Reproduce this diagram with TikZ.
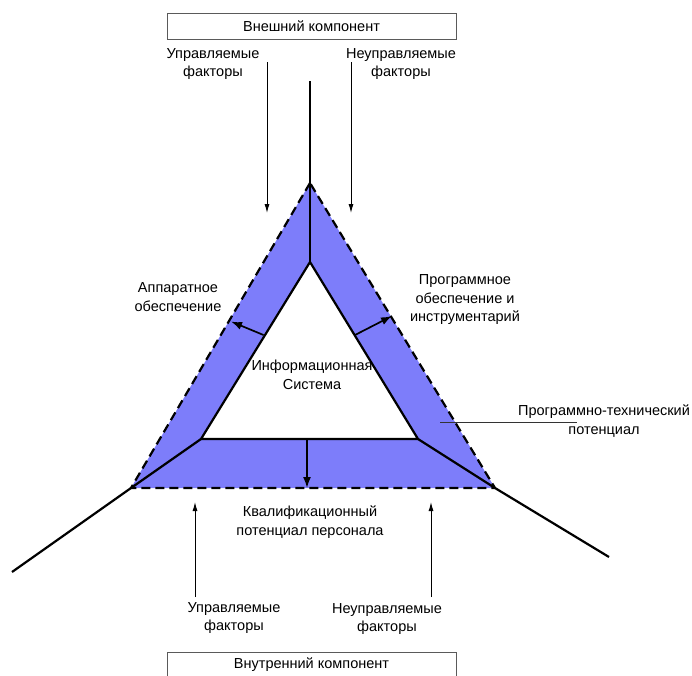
\documentclass[tikz,border=0pt]{standalone}
\usepackage{fontspec}
\setmainfont{Liberation Sans}
\usetikzlibrary{arrows.meta}
\definecolor{band}{RGB}{125,125,250}
\definecolor{boxline}{RGB}{90,90,90}
\begin{document}
\begin{tikzpicture}[x=1pt,y=-1pt,
  lbl/.style={align=center,font=\fontsize{14.5}{18.5}\selectfont,inner sep=0pt},
  compbox/.style={draw=boxline,line width=1pt,minimum width=289pt,minimum height=26pt,inner sep=0pt,font=\fontsize{14.5}{18.5}\selectfont},
  mainline/.style={line width=2.2pt,line join=miter},
  outeredge/.style={line width=2.2pt,dash pattern=on 9pt off 5pt},
  bandarrow/.style={line width=1.7pt,-{Latex[length=11pt,width=8pt]}},
  factorarrow/.style={line width=1pt,-{Latex[length=9pt,width=5pt]}},
  leader/.style={line width=0.9pt,draw=black!80}]
\useasboundingbox (0,0) rectangle (692,675);
% triangle corners
\coordinate (O1) at (310,183);
\coordinate (O2) at (131,488);
\coordinate (O3) at (495,488);
\coordinate (I1) at (310,262);
\coordinate (I2) at (201,439);
\coordinate (I3) at (418,439);
\coordinate (T) at (310,81);
\coordinate (L) at (12,572);
\coordinate (R) at (609,557);
% band
\fill[band] (O1) -- (O2) -- (O3) -- cycle;
\fill[white] (I1) -- (I2) -- (I3) -- cycle;
\draw[outeredge] (O1) -- (O2) -- (O3) -- cycle;
\draw[mainline] (I1) -- (I2) -- (I3) -- cycle;
\draw[mainline] (T) -- (I1);
\draw[mainline] (I2) -- (O2) -- (L);
\draw[mainline] (I3) -- (O3) -- (R);
% band arrows
\coordinate (aL0) at (263.5,335);
\coordinate (aL1) at (231,321.5);
\coordinate (aR0) at (355,335);
\coordinate (aR1) at (392,316);
\coordinate (aB0) at (307,439);
\coordinate (aB1) at (307,488);
\draw[bandarrow] (aL0) -- (aL1);
\draw[bandarrow] (aR0) -- (aR1);
\draw[bandarrow] (aB0) -- (aB1);
% boxes
\node[compbox] (ext) at (311.5,26) {Внешний компонент};
\node[compbox] (int) at (311.5,665) {Внутренний компонент};
% factor labels
\node[lbl] (tc) at (213,64) {Управляемые\\факторы};
\node[lbl] (tu) at (401,64) {Неуправляемые\\факторы};
\node[lbl] (bc) at (234,618) {Управляемые\\факторы};
\node[lbl] (bu) at (387,619) {Неуправляемые\\факторы};
% factor arrows
\coordinate (ftc0) at (267,62);
\coordinate (ftc1) at (267,213);
\coordinate (ftu0) at (351,62);
\coordinate (ftu1) at (351,213);
\coordinate (fbc0) at (195,597);
\coordinate (fbc1) at (195,502);
\coordinate (fbu0) at (431,597);
\coordinate (fbu1) at (431,502);
\draw[factorarrow] (ftc0) -- (ftc1);
\draw[factorarrow] (ftu0) -- (ftu1);
\draw[factorarrow] (fbc0) -- (fbc1);
\draw[factorarrow] (fbu0) -- (fbu1);
% labels
\node[lbl] (hw) at (178,297) {Аппаратное\\обеспечение};
\node[lbl] (sw) at (465,300) {Программное\\обеспечение и\\инструментарий};
\node[lbl] (is) at (312,375) {Информационная\\Система};
\node[lbl] (pt) at (604,421) {Программно-технический\\потенциал};
\node[lbl] (kp) at (310,522) {Квалификационный\\потенциал персонала};
% leader line
\coordinate (ld0) at (440,422);
\coordinate (ld1) at (577,422);
\draw[leader] (ld0) -- (ld1);
\end{tikzpicture}
\end{document}
